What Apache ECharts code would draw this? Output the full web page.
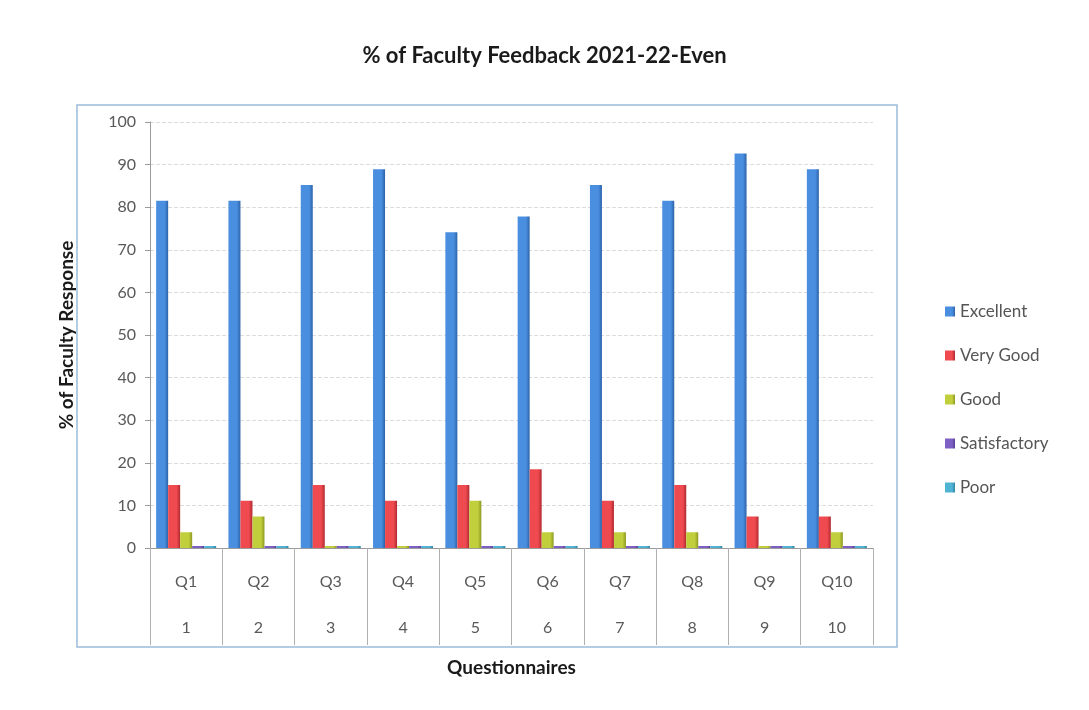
<!DOCTYPE html>
<html>
<head>
<meta charset="utf-8">
<script src="https://cdn.jsdelivr.net/npm/echarts@6/dist/echarts.min.js"></script>
<style>
  html, body { margin: 0; padding: 0; background: #fff; }
  #chart { width: 1089px; height: 710px; }
</style>
</head>
<body>
<div id="chart"></div>
<script>
// data (values in %)
var questions = ['Q1', 'Q2', 'Q3', 'Q4', 'Q5', 'Q6', 'Q7', 'Q8', 'Q9', 'Q10'];
var numbers = ['1', '2', '3', '4', '5', '6', '7', '8', '9', '10'];
var excellent = [81.5, 81.5, 85.2, 88.9, 74.1, 77.8, 85.2, 81.5, 92.6, 88.9];
var veryGood = [14.8, 11.1, 14.8, 11.1, 14.8, 18.5, 11.1, 14.8, 7.4, 7.4];
var good = [3.7, 7.4, 0, 0, 11.1, 3.7, 3.7, 3.7, 0, 3.7];
var satisfactory = [0, 0, 0, 0, 0, 0, 0, 0, 0, 0];
var poor = [0, 0, 0, 0, 0, 0, 0, 0, 0, 0];

var myChart = echarts.init(document.getElementById('chart'));

// a bit of shading so the bars look like the excel 3d columns
function shade(light, dark) {
  return new echarts.graphic.LinearGradient(0, 0, 1, 0, [
    { offset: 0, color: light },
    { offset: 0.7, color: light },
    { offset: 1, color: dark }
  ]);
}

function barSeries(name, data, light, dark) {
  return {
    name: name,
    type: 'bar',
    xAxisIndex: 0,
    data: data,
    barWidth: 12,
    barGap: '0%',
    barMinHeight: 2,
    itemStyle: { color: shade(light, dark) }
  };
}

var font = 'Lato, "Open Sans", sans-serif';

option = {
  backgroundColor: '#fff',
  textStyle: { fontFamily: font },
  title: {
    text: '% of Faculty Feedback 2021-22-Even',
    left: 'center',
    top: 40,
    textStyle: { fontSize: 22, fontWeight: 'bold', color: '#1a1a1a', fontFamily: font }
  },
  legend: {
    orient: 'vertical',
    left: 940,
    top: 298,
    itemWidth: 10,
    itemHeight: 10,
    itemGap: 27,
    icon: 'rect',
    textStyle: { fontSize: 17, color: '#555', fontFamily: font },
    data: ['Excellent', 'Very Good', 'Good', 'Satisfactory', 'Poor']
  },
  grid: { left: 150, right: 216, top: 122, bottom: 162 },
  graphic: [{
    type: 'rect',
    shape: { x: 77, y: 105, width: 820, height: 542 },
    style: { fill: 'none', stroke: '#9cbcd8', lineWidth: 1.5 },
    silent: true
  }],
  xAxis: [{
    type: 'category',
    data: questions,
    name: 'Questionnaires',
    nameLocation: 'middle',
    nameGap: 110,
    nameTextStyle: { fontSize: 19, fontWeight: 'bold', color: '#1a1a1a', fontFamily: font },
    axisLine: { lineStyle: { color: '#9a9a9a' } },
    axisTick: { show: true, interval: 0, length: 97, lineStyle: { color: '#b0b0b0' } },
    axisLabel: { margin: 26, fontSize: 16, color: '#595959', fontFamily: font },
    splitLine: { show: false }
  }, {
    type: 'category',
    data: numbers,
    position: 'bottom',
    offset: 46,
    axisLine: { show: false },
    axisTick: { show: false },
    axisLabel: { margin: 26, fontSize: 16, color: '#595959', fontFamily: font }
  }],
  yAxis: {
    type: 'value',
    min: 0,
    max: 100,
    interval: 10,
    name: '% of Faculty Response',
    nameLocation: 'middle',
    nameGap: 74,
    nameTextStyle: { fontSize: 19, fontWeight: 'bold', color: '#1a1a1a', fontFamily: font },
    axisLine: { show: true, lineStyle: { color: '#9a9a9a' } },
    axisTick: { show: true, length: 5, lineStyle: { color: '#9a9a9a' } },
    axisLabel: { fontSize: 16, color: '#595959', margin: 14, fontFamily: font },
    splitLine: { lineStyle: { color: '#dcdcdc', type: 'dashed' } }
  },
  series: [
    barSeries('Excellent', excellent, '#4a8ee0', '#2c63a8'),
    barSeries('Very Good', veryGood, '#ee4a4f', '#b02a30'),
    barSeries('Good', good, '#c2cf3c', '#8e9a22'),
    barSeries('Satisfactory', satisfactory, '#7e5fc4', '#5a3f96'),
    barSeries('Poor', poor, '#4fb4d4', '#2f86a6')
  ]
};

myChart.setOption(option);
</script>
</body>
</html>
